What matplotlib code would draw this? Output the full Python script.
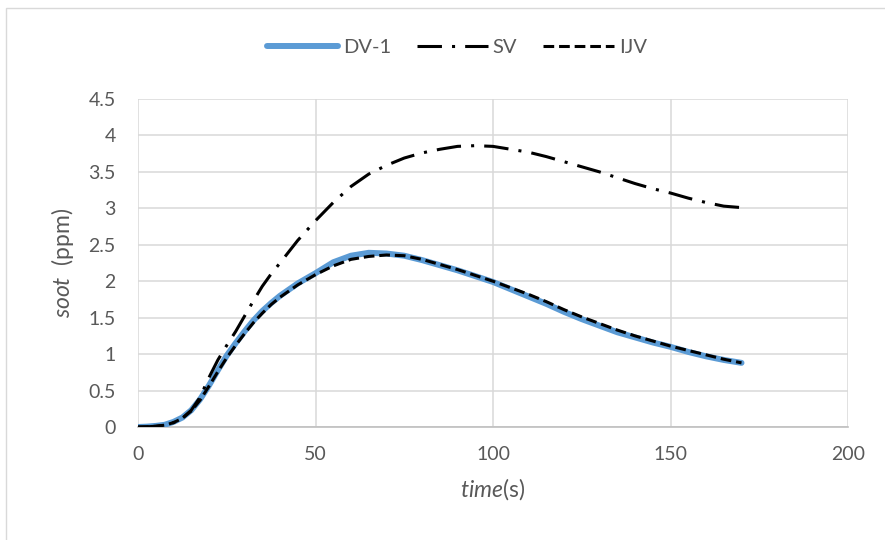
import matplotlib
matplotlib.use("Agg")
import matplotlib.pyplot as plt
from matplotlib.patches import Rectangle

time = [0, 2.5, 5, 7.5, 10, 12.5, 15, 17.5, 20, 22.5, 25, 27.5, 30, 32.5, 35,
        37.5, 40, 45, 50, 55, 60, 65, 70, 75, 80, 85, 90, 95, 100, 105, 110,
        115, 120, 125, 130, 135, 140, 145, 150, 155, 160, 165, 170]
dv1 = [0, 0.005, 0.015, 0.03, 0.07, 0.13, 0.23, 0.38, 0.57, 0.78, 0.98, 1.15,
       1.31, 1.46, 1.59, 1.70, 1.80, 1.97, 2.11, 2.26, 2.35, 2.39, 2.38, 2.35,
       2.29, 2.22, 2.15, 2.07, 1.99, 1.89, 1.79, 1.69, 1.58, 1.48, 1.39, 1.30,
       1.23, 1.16, 1.10, 1.03, 0.97, 0.92, 0.88]
sv = [0, 0.003, 0.01, 0.025, 0.06, 0.12, 0.23, 0.41, 0.68, 0.92, 1.12, 1.31,
      1.52, 1.73, 1.93, 2.10, 2.25, 2.56, 2.83, 3.08, 3.30, 3.47, 3.59, 3.69,
      3.76, 3.81, 3.85, 3.86, 3.85, 3.81, 3.77, 3.71, 3.64, 3.57, 3.50, 3.42,
      3.34, 3.27, 3.21, 3.14, 3.08, 3.03, 3.01]
ijv = [0, 0.003, 0.01, 0.025, 0.06, 0.12, 0.22, 0.37, 0.56, 0.76, 0.95, 1.12,
       1.28, 1.43, 1.56, 1.68, 1.78, 1.95, 2.09, 2.21, 2.30, 2.34, 2.36, 2.35,
       2.30, 2.23, 2.16, 2.08, 2.00, 1.91, 1.82, 1.72, 1.61, 1.51, 1.42, 1.33,
       1.25, 1.18, 1.11, 1.05, 0.99, 0.93, 0.88]
labels = ["DV-1", "SV", "IJV"]
xticks = [0, 50, 100, 150, 200]
yticks = [0, 0.5, 1, 1.5, 2, 2.5, 3, 3.5, 4, 4.5]
yticklabels = ["0", "0.5", "1", "1.5", "2", "2.5", "3", "3.5", "4", "4.5"]

plt.rcParams['font.family'] = ['Lato', 'DejaVu Sans']
plt.rcParams['mathtext.fontset'] = 'custom'
plt.rcParams['mathtext.it'] = 'Lato:italic'
plt.rcParams['mathtext.rm'] = 'Lato'

txt = '#595959'
grid = '#D9D9D9'

fig = plt.figure(figsize=(8.85, 5.4), dpi=100)
ax = fig.add_axes([138/885, 1-427/540, (848-138)/885, (427-99)/540])

ax.plot(time, dv1, color='#5B9BD5', lw=4.3, solid_capstyle='round',
        solid_joinstyle='round', label=labels[0], zorder=3)
ax.plot(time, sv, color='black', lw=2.2, linestyle=(0, (8, 3.3, 1, 3.3)),
        dash_joinstyle='round', label=labels[1], zorder=4)
ax.plot(time, ijv, color='black', lw=2.2, linestyle=(0, (3.5, 1.6)),
        dash_joinstyle='round', label=labels[2], zorder=5)

ax.set_xlim(0, 200)
ax.set_ylim(0, 4.5)
ax.set_xticks(xticks)
ax.set_yticks(yticks)
ax.set_yticklabels(yticklabels)
ax.grid(True, color=grid, lw=1.1, zorder=0)
ax.set_axisbelow(True)
for s in ['top', 'right', 'left']:
    ax.spines[s].set_visible(False)
ax.spines['bottom'].set_color('#BFBFBF')
ax.spines['bottom'].set_linewidth(1.2)
ax.tick_params(axis='both', length=0, labelsize=14, colors=txt)
ax.tick_params(axis='x', pad=14)
ax.tick_params(axis='y', pad=16)

ax.set_xlabel(r'$\mathit{time}$(s)', fontsize=16.5, color=txt, labelpad=9)
ax.set_ylabel(r'$\mathit{soot}$  (ppm)', fontsize=16.5, color=txt, labelpad=9)

leg = fig.legend(loc='center', bbox_to_anchor=(457/885, 1-47/540), ncol=3, frameon=False,
                 fontsize=14.5, handlelength=3.5, handletextpad=0.25, columnspacing=1.3)
for t in leg.get_texts():
    t.set_color(txt)

fig.add_artist(Rectangle((5.5/885, -0.1), 2, 1.1 - 8/540, transform=fig.transFigure,
                         fill=False, ec=grid, lw=1.0))

fig.savefig('out.png', dpi=100, facecolor='white')
